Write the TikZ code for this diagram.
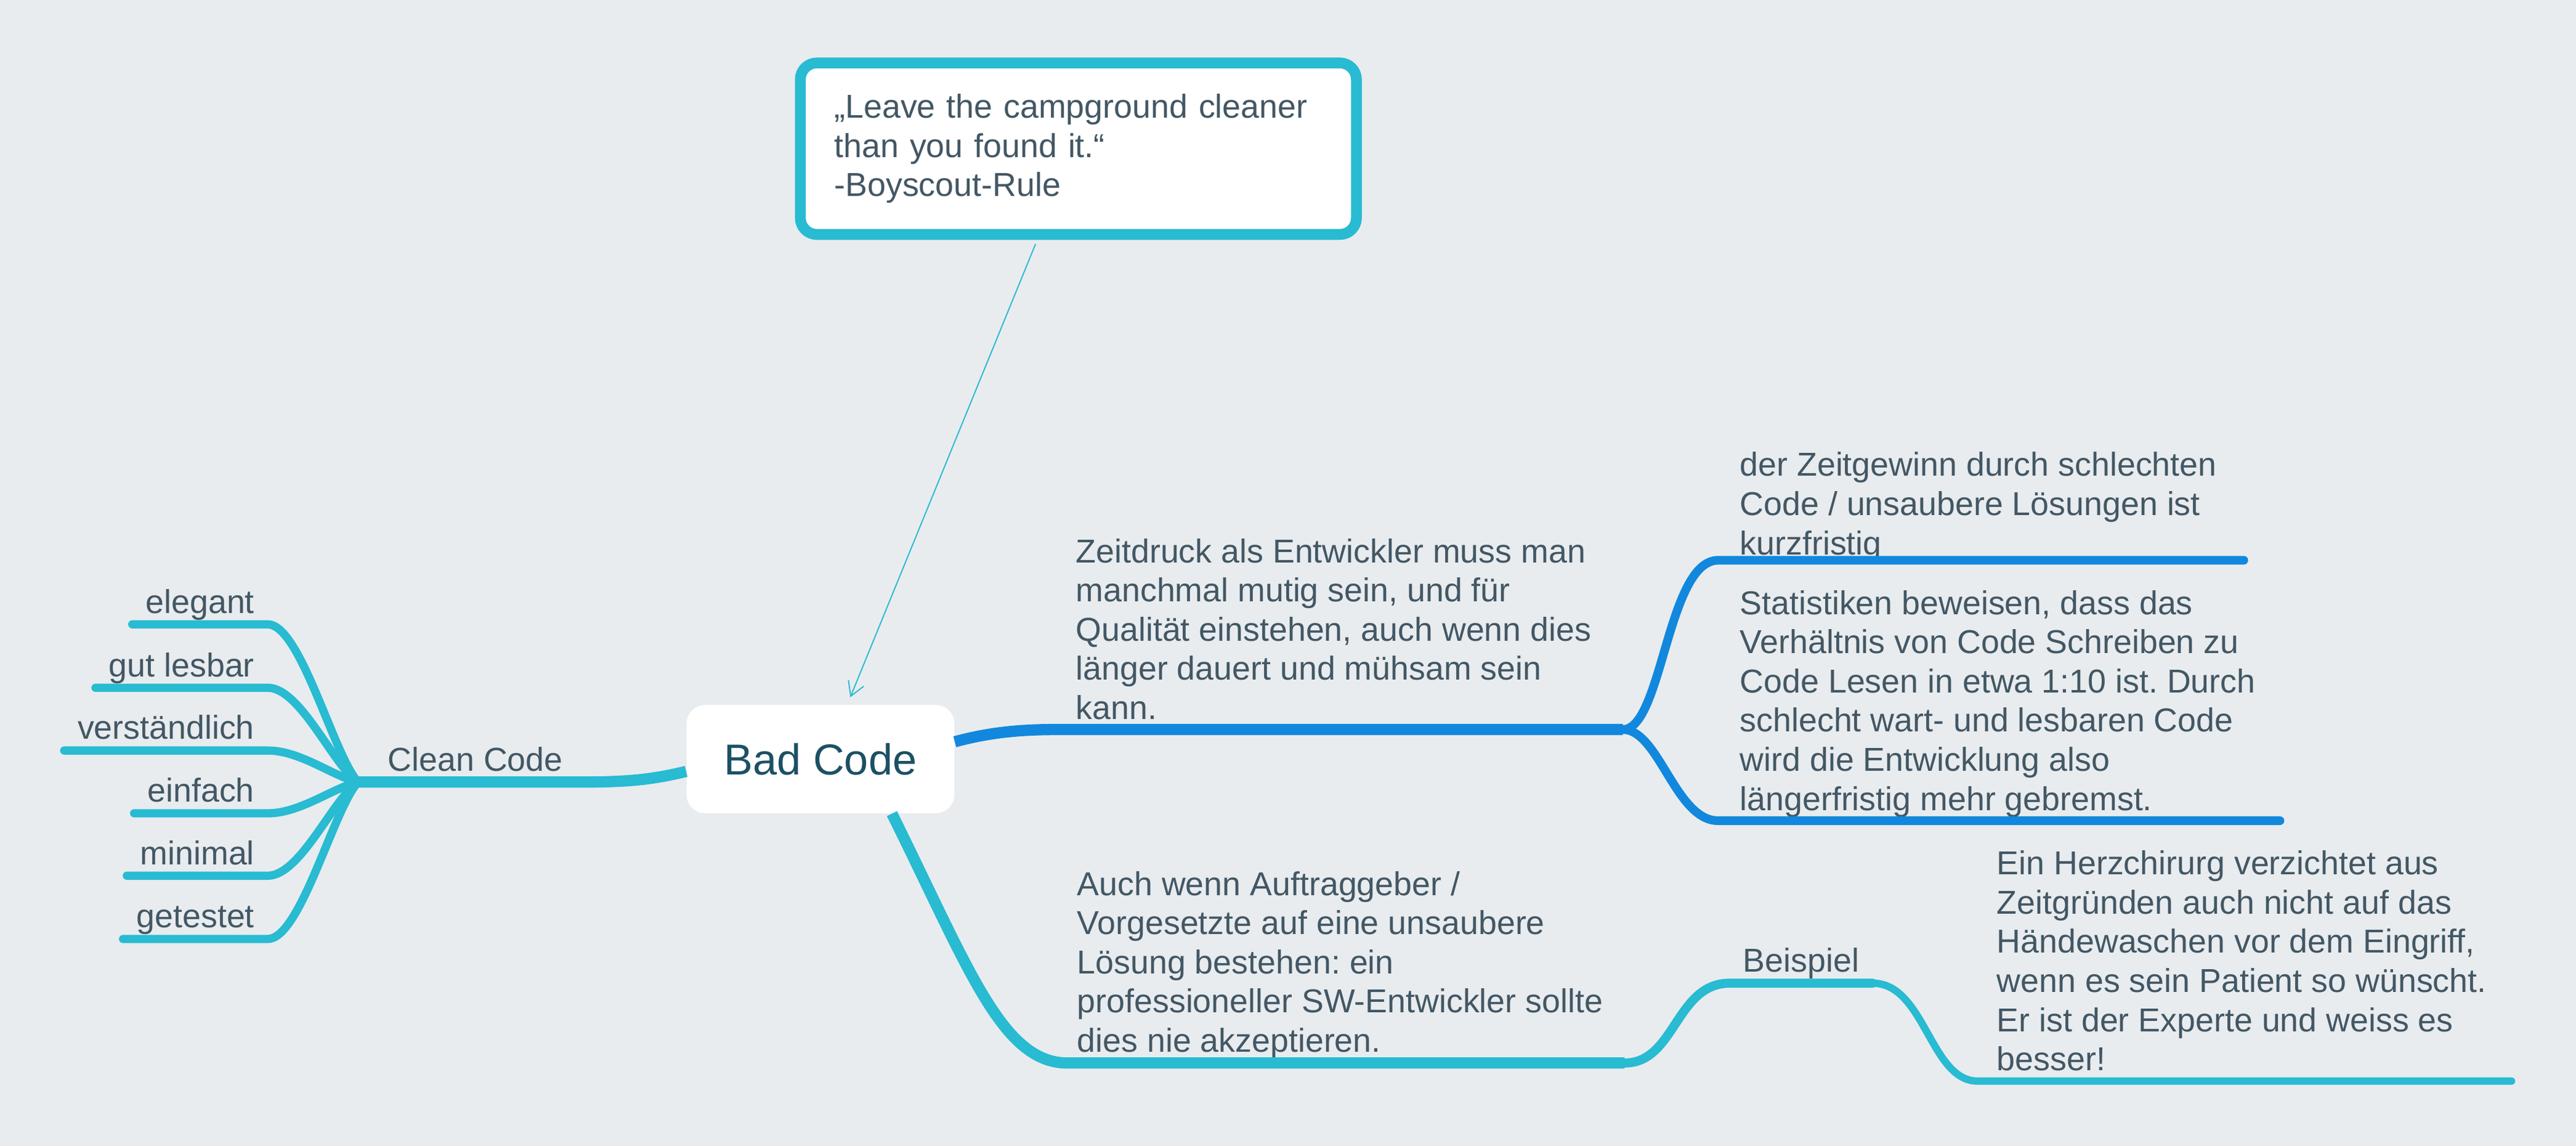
\documentclass[tikz,border=0pt]{standalone}
\usepackage{fontspec}
\setmainfont{Liberation Sans}
\usepackage{xcolor}
\usepackage{tikz}
\usetikzlibrary{calc,positioning,arrows.meta}
\definecolor{bgc}{RGB}{232,236,239}
\definecolor{cyanc}{RGB}{40,187,210}
\definecolor{bluec}{RGB}{17,136,221}
\definecolor{txtc}{RGB}{67,87,100}
\definecolor{badc}{RGB}{28,80,100}
\newcommand{\mapfont}{\fontsize{15.3}{18.1}\selectfont}
\newcommand{\rootfont}{\fontsize{20}{24}\selectfont}
\frenchspacing

\begin{document}
\begin{tikzpicture}
[x=0.0266667cm,y=-0.0266667cm,
every node/.style={text=txtc,font=\mapfont},
textblock/.style={align=left,inner sep=0pt,anchor=north west},
leaf/.style={inner xsep=6pt,inner ysep=5pt,text depth=0pt},
cyanbranch/.style={draw=cyanc,line cap=round},
bluebranch/.style={draw=bluec,line cap=round}]
\fill[bgc] (0,0) rectangle (1568.25,697.5);
\useasboundingbox (0,0) rectangle (1568.25,697.5);

\node[fill=white,rounded corners=8.5pt,minimum width=123.7pt,minimum height=50pt,
	text=badc,font=\rootfont] (bad) at (499.5,462) {Bad Code};
\node[draw=cyanc,line width=5pt,fill=white,rounded corners=7.6pt,minimum width=256.9pt,
	minimum height=79.2pt,text width=225.5pt,inner xsep=15.7pt,align=left] (quote) at (656.5,90.5)
{„Leave the campground cleaner\\than you found it.“\\-Boyscout-Rule};
\draw[cyanc,line width=0.55pt,-{Straight Barb[length=6.5pt,width=7.6pt]},shorten <=2pt,shorten >=3.6pt]
([xshift=-19pt]quote.south) -- ([xshift=12.4pt]bad.north);

\coordinate (cleanJ) at (218,476);
\node[leaf,anchor=south west] (clean) at (228,476) {Clean Code};
\draw[cyanbranch,line width=5.2pt,line cap=butt] ([yshift=-5.7pt]bad.west)
.. controls (395,475) and (380,476) .. (clean.south east) -- (cleanJ);
\foreach \name/\word/\ly in {el/elegant/380,gl/gut lesbar/418.6,vs/verständlich/456.8,
	ef/einfach/495,mi/minimal/533,gt/getestet/571.5}
{
	\node[leaf,anchor=south east] (\name) at (163,\ly) {\word};
	\draw[cyanbranch,line width=3.8pt] (\name.south west) -- (\name.south east)
	.. controls +(20,0) and (203,{0.17*\ly+395.08}) .. (cleanJ);
}

\coordinate (zeitJ) at (988,444);
\node[textblock] (zeit) at (654.7,327.5) {Zeitdruck als Entwickler muss man\\manchmal mutig sein, und für\\Qualität einstehen, auch wenn dies\\länger dauert und mühsam sein\\kann.};
\draw[bluebranch,line width=5.2pt,line cap=butt] ([yshift=8pt]bad.east)
.. controls (605,445) and (625,444) .. (645,444) -- (zeitJ);

\coordinate (gewR) at (1366,341);
\node[textblock] (gew) at (1059,275) {der Zeitgewinn durch schlechten\\Code / unsaubere Lösungen ist\\kurzfristig};
\draw[bluebranch,line width=4pt] (zeitJ) .. controls (1012,444) and (1015,341) .. (1046,341) -- (gewR);

\coordinate (statR) at (1388,499.5);
\node[textblock] (stat) at (1059,359) {Statistiken beweisen, dass das\\Verhältnis von Code Schreiben zu\\Code Lesen in etwa 1:10 ist. Durch\\schlecht wart- und lesbaren Code\\wird die Entwicklung also\\längerfristig mehr gebremst.};
\draw[bluebranch,line width=4pt] (zeitJ) .. controls (1010,444) and (1020,499.5) .. (1046,499.5) -- (statR);

\coordinate (bspJ) at (989,647);
\node[textblock] (auch) at (655.5,530) {Auch wenn Auftraggeber /\\Vorgesetzte auf eine unsaubere\\Lösung bestehen: ein\\professioneller SW-Entwickler sollte\\dies nie akzeptieren.};
\draw[cyanbranch,line width=5.2pt,line cap=butt] ([xshift=33pt]bad.south)
.. controls (590,590) and (610,647) .. (650,647) -- (bspJ);

\node[leaf,anchor=south] (bsp) at (1096.5,598.4) {Beispiel};
\draw[cyanbranch,line width=4.2pt] (bspJ) .. controls (1020,647) and (1020,598.4) .. (bsp.south west) -- (bsp.south east);

\coordinate (herzR) at (1529,658);
\node[textblock] (herz) at (1215.4,517.5) {Ein Herzchirurg verzichtet aus\\Zeitgründen auch nicht auf das\\Händewaschen vor dem Eingriff,\\wenn es sein Patient so wünscht.\\Er ist der Experte und weiss es\\besser!};
\draw[cyanbranch,line width=3.4pt] (bsp.south east) .. controls +(32,0) and (1175,658) .. (1204,658) -- (herzR);
\end{tikzpicture}
\end{document}
